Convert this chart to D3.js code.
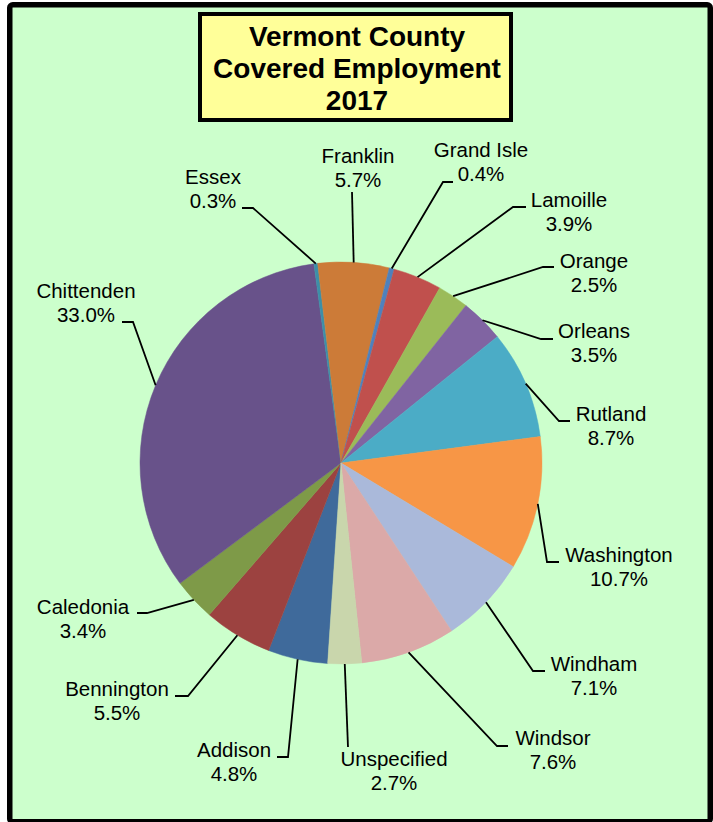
<!DOCTYPE html>
<html>
<head>
<meta charset="utf-8">
<script src="https://cdn.jsdelivr.net/npm/d3@7"></script>
<style>
  html, body { margin: 0; padding: 0; background: #ffffff; }
  svg { display: block; }
  text { font-family: "Liberation Sans", Arial, sans-serif; }
</style>
</head>
<body>
<svg id="chart" width="713" height="822"></svg>
<script>
// ---- data ----
const titleLines = ["Vermont County", "Covered Employment", "2017"];
const counties = ["Addison", "Bennington", "Caledonia", "Chittenden", "Essex", "Franklin",
  "Grand Isle", "Lamoille", "Orange", "Orleans", "Rutland", "Washington", "Windham",
  "Windsor", "Unspecified"];
const shares = [4.8, 5.5, 3.4, 33.0, 0.3, 5.7, 0.4, 3.9, 2.5, 3.5, 8.7, 10.7, 7.1, 7.6, 2.7];
const sliceColors = ["#3F6A9B", "#9C4240", "#7E9A48", "#68528A", "#3C8FA8", "#CC7B38",
  "#4F81BD", "#C0504D", "#9BBB59", "#8064A2", "#4BACC6", "#F79646", "#AAB9DA",
  "#DBA9A8", "#C9D6AC"];

// ---- label layout (text centre / first baseline, leader elbow, leader end) ----
const labelLayout = [
  {tx: 234, ty: 757, pts: [[288, 757], [277, 757]]},
  {tx: 117, ty: 696, pts: [[188, 696], [175, 696]]},
  {tx: 83,  ty: 614, pts: [[147, 613], [137, 613]]},
  {tx: 86,  ty: 298, pts: [[133, 322], [122, 322]]},
  {tx: 213, ty: 184, pts: [[253, 208], [242, 208]]},
  {tx: 358, ty: 163, pts: [[352, 192]]},
  {tx: 481, ty: 157, pts: [[443, 182], [453, 182]]},
  {tx: 569, ty: 207, pts: [[513, 207], [526, 207]]},
  {tx: 594, ty: 268, pts: [[543, 267], [554, 267]]},
  {tx: 594, ty: 338, pts: [[541, 339], [553, 339]]},
  {tx: 611, ty: 421, pts: [[559, 421], [570, 421]]},
  {tx: 619, ty: 562, pts: [[547, 562], [559, 562]]},
  {tx: 594, ty: 671, pts: [[533, 671], [545, 671]]},
  {tx: 553, ty: 745, pts: [[497, 746], [508, 746]]},
  {tx: 394, ty: 766, pts: [[348, 747]]}
];

const svg = d3.select("#chart");

// chart area
svg.append("rect")
  .attr("x", 9.75).attr("y", 4.75).attr("width", 700.5).attr("height", 817)
  .attr("rx", 3)
  .attr("fill", "#CCFFCC").attr("stroke", "#000").attr("stroke-width", 5.5);

// title box
svg.append("rect")
  .attr("x", 200).attr("y", 14).attr("width", 311).attr("height", 106)
  .attr("fill", "#FFFF99").attr("stroke", "#000").attr("stroke-width", 4);
svg.append("g").selectAll("text").data(titleLines).join("text")
  .attr("x", 357).attr("y", (d, i) => 46 + i * 32)
  .attr("text-anchor", "middle")
  .attr("font-size", 28).attr("font-weight", "bold").attr("fill", "#000")
  .text(d => d);

// pie
const cx = 341, cy = 463, R = 201;
const data = counties.map((c, i) => ({name: c, value: shares[i], color: sliceColors[i], layout: labelLayout[i]}));
const startDeg = 183.8;
const pie = d3.pie().value(d => d.value).sort(null)
  .startAngle(startDeg * Math.PI / 180)
  .endAngle((startDeg + 360) * Math.PI / 180);
const arcs = pie(data);
const arc = d3.arc().innerRadius(0).outerRadius(R);

const g = svg.append("g").attr("transform", `translate(${cx},${cy})`);
g.selectAll("path").data(arcs).join("path")
  .attr("d", arc)
  .attr("fill", d => d.data.color)
  .attr("stroke", d => d.data.color).attr("stroke-width", 0.5);

// leader lines
const edgePoint = d => {
  const a = (d.startAngle + d.endAngle) / 2;
  return [cx + R * Math.sin(a), cy - R * Math.cos(a)];
};
const line = d3.line();
svg.append("g").selectAll("path").data(arcs).join("path")
  .attr("d", d => line([edgePoint(d), ...d.data.layout.pts]))
  .attr("fill", "none").attr("stroke", "#000").attr("stroke-width", 1.8);

// labels
const fmt = d3.format(".1f");
const lbl = svg.append("g").selectAll("text").data(arcs).join("text")
  .attr("text-anchor", "middle")
  .attr("font-size", 20.5).attr("fill", "#000");
lbl.append("tspan").attr("x", d => d.data.layout.tx).attr("y", d => d.data.layout.ty)
  .text(d => d.data.name);
lbl.append("tspan").attr("x", d => d.data.layout.tx).attr("y", d => d.data.layout.ty + 24)
  .text(d => fmt(d.data.value) + "%");
</script>
</body>
</html>
